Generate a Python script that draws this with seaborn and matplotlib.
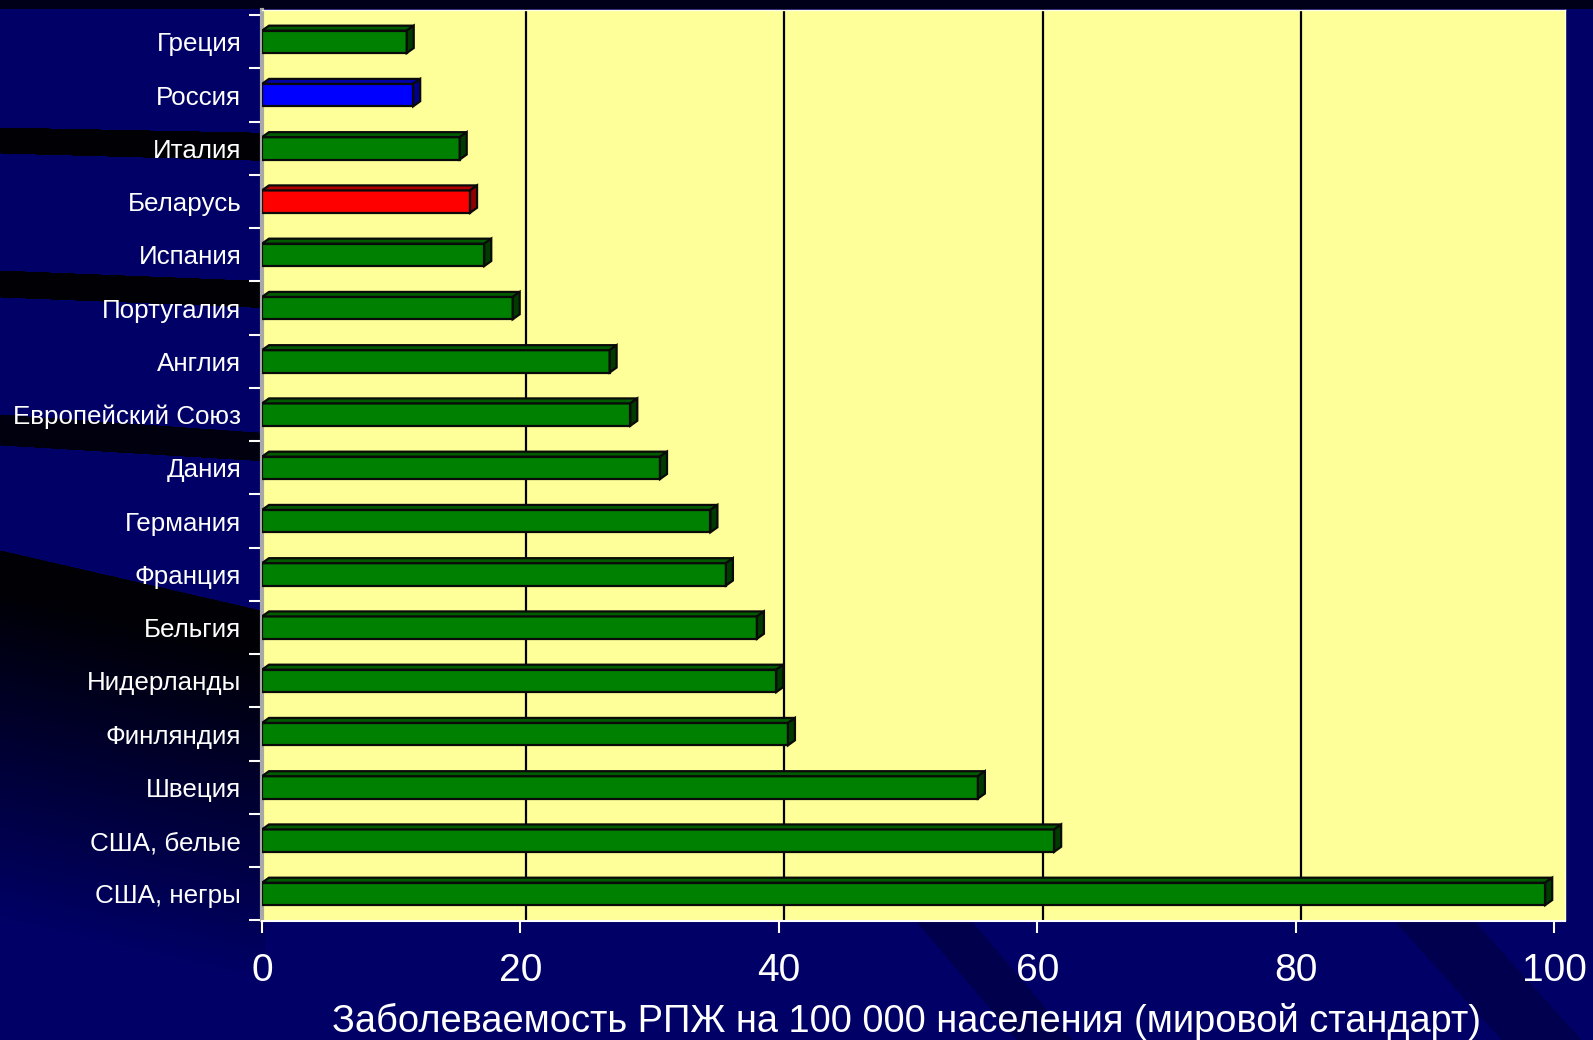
import numpy as np
import pandas as pd
import matplotlib
matplotlib.use("Agg")
import matplotlib.pyplot as plt
import seaborn as sns
from matplotlib.patches import Polygon
from matplotlib.transforms import ScaledTranslation

# ---------------- data ----------------
countries = ["Греция", "Россия", "Италия", "Беларусь", "Испания", "Португалия",
             "Англия", "Европейский Союз", "Дания", "Германия", "Франция",
             "Бельгия", "Нидерланды", "Финляндия", "Швеция", "США, белые",
             "США, негры"]
values = [11.2, 11.7, 15.3, 16.1, 17.2, 19.4, 26.9, 28.5, 30.8, 34.7, 35.9,
          38.3, 39.8, 40.7, 55.4, 61.3, 99.3]
highlight = {"Россия": "blue", "Беларусь": "red"}
xticks = [0, 20, 40, 60, 80, 100]
xlabel = "Заболеваемость РПЖ на 100 000 населения (мировой стандарт)"

df = pd.DataFrame({"country": countries, "value": values})

# colour schemes: front, top, side
scheme = {
    "green": ("#008000", "#005a00", "#003c00"),
    "blue": ("#0000ff", "#0000a8", "#00008c"),
    "red": ("#ff0000", "#b00000", "#900000"),
}
kind = {c: highlight.get(c, "green") for c in countries}
palette = {c: scheme[kind[c]][0] for c in countries}

# ---------------- style ----------------
sns.set_style("white")
plt.rcParams["font.family"] = ["Liberation Sans", "DejaVu Sans"]

W, H = 1593, 1040
fig = plt.figure(figsize=(W / 100, H / 100), dpi=100)

# background (decorative navy slide)
yy, xx = np.mgrid[0:H, 0:W].astype(float)
navy = np.array([0.0, 0.0, 0.40])
m = np.zeros((H, W))
m = np.maximum(m, (yy < 9) * 0.75)
left = xx < 265
b1 = (yy > 127 + 0.02 * xx) & (yy < 153 + 0.028 * xx) & left
b2 = (yy > 270 + 0.04 * xx) & (yy < 297 + 0.04 * xx) & left
b3 = (yy > 414 + 0.07 * xx) & (yy < 445 + 0.06 * xx) & left
m = np.maximum(m, b1 * 0.95)
m = np.maximum(m, b2 * 0.95)
m = np.maximum(m, b3 * 0.85)
ytop = 550 + 0.23 * xx
big = (yy > ytop) & left
fade = np.clip(1 - (yy - ytop - 40) / 330, 0, 1)
m = np.maximum(m, big * fade * 0.95)
# subtle diagonal streaks lower right
d1 = np.abs((xx - 930) - 0.85 * (yy - 905)) < 28
d2 = np.abs((xx - 1420) - 0.9 * (yy - 905)) < 40
m = np.maximum(m, (d1 & (yy > 905)) * 0.25)
m = np.maximum(m, (d2 & (yy > 905)) * 0.22)
img = navy[None, None, :] * (1 - m[..., None])
bg = fig.add_axes([0, 0, 1, 1], zorder=-10)
bg.imshow(img, aspect="auto", extent=(0, W, H, 0), interpolation="bilinear")
bg.axis("off")

# main axes
x0p, x1p, y0p, y1p = 262.0, 1564.6, 10.2, 920.5
ax = fig.add_axes([x0p / W, 1 - y1p / H, (x1p - x0p) / W, (y1p - y0p) / H])
ax.set_facecolor("#ffff99")

sns.barplot(data=df, x="value", y="country", hue="country", palette=palette,
            legend=False, orient="h", width=0.42, saturation=1,
            edgecolor="#0a0a0a", linewidth=1.6, ax=ax, zorder=3)

ax.set_xlim(0, 100.8)
ax.set_ylim(16.5, -0.594)

# 3D faces derived from drawn bars
px_per_x = (x1p - x0p) / 100.8
px_per_y = (y1p - y0p) / (16.5 + 0.594)
dxp, dyp = 7.0, 5.0
dx, dy = dxp / px_per_x, dyp / px_per_y
for p, c in zip(ax.patches, countries):
    bx, by, bw, bh = p.get_x(), p.get_y(), p.get_width(), p.get_height()
    _, topc, sidec = scheme[kind[c]]
    top = Polygon([(bx, by), (bx + bw, by), (bx + bw + dx, by - dy), (bx + dx, by - dy)],
                  closed=True, facecolor=topc, edgecolor="#0a0a0a", lw=1.6, zorder=3)
    side = Polygon([(bx + bw, by), (bx + bw + dx, by - dy), (bx + bw + dx, by + bh - dy),
                    (bx + bw, by + bh)],
                   closed=True, facecolor=sidec, edgecolor="#0a0a0a", lw=1.6, zorder=3)
    ax.add_patch(top)
    ax.add_patch(side)

# gridlines (shifted like the 3D back wall)
off = ScaledTranslation(5.5 / 100, 0, fig.dpi_scale_trans)
gtrans = ax.get_xaxis_transform() + off
for t in xticks[1:-1]:
    ax.plot([t, t], [0, 1], color="black", lw=1.6, zorder=1, transform=gtrans,
            clip_on=False)

# axes decoration
ax.set_xticks(xticks)
ax.set_xticklabels([str(t) for t in xticks])
ax.tick_params(axis="x", colors="white", labelsize=28, length=8.5, width=1.5,
               direction="out", pad=15, bottom=True)
ax.set_yticks(np.arange(-0.5, len(countries), 1), minor=True)
ax.tick_params(axis="y", which="major", length=0, pad=15, labelsize=18.7,
               labelcolor="white")
ax.tick_params(axis="y", which="minor", length=9.5, width=1.5, color="white",
               direction="out", left=True)
ax.set_ylabel("")
ax.set_xlabel(xlabel, color="white", fontsize=27.4)
ax.xaxis.set_label_coords(0.495, -0.111)
ax.xaxis.label.set_va("center")

ax.spines["left"].set_color("#a8a8a8")
ax.spines["left"].set_linewidth(3)
ax.spines["bottom"].set_color("white")
ax.spines["bottom"].set_linewidth(1.5)
for s in ("top", "right"):
    ax.spines[s].set_color("#ffffe0")
    ax.spines[s].set_linewidth(1)

fig.savefig("out.png", dpi=100, facecolor="#000066")
